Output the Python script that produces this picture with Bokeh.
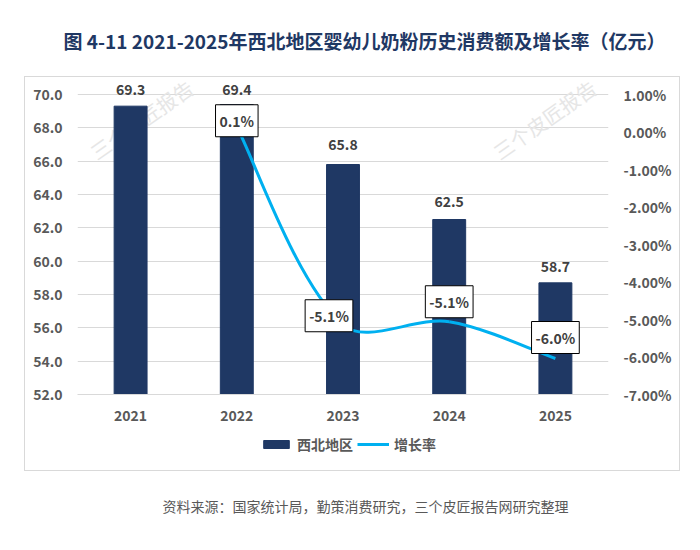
import numpy as np

from bokeh.core.properties import value
from bokeh.embed import file_html
from bokeh.layouts import column
from bokeh.models import (ColumnDataSource, FixedTicker, Label, LabelSet, Legend, LegendItem,
                          LinearAxis, PrintfTickFormatter, Range1d)
from bokeh.plotting import figure
from bokeh.resources import INLINE

# data
years = ["2021", "2022", "2023", "2024", "2025"]
sales = [69.3, 69.4, 65.8, 62.5, 58.7]          # 亿元
rate_years = ["2022", "2023", "2024", "2025"]
rates = [0.14, -5.14, -5.06, -6.04]             # %
sales_ticks = [52, 54, 56, 58, 60, 62, 64, 66, 68, 70]
rate_ticks = [-7, -6, -5, -4, -3, -2, -1, 0, 1]
series_names = ["西北地区", "增长率"]

title_text = "图 4-11 2021-2025年西北地区婴幼儿奶粉历史消费额及增长率（亿元）"
source_text = "资料来源：国家统计局，勤策消费研究，三个皮匠报告网研究整理"
watermark = "三个皮匠报告"

FONT = "Noto Sans CJK SC"
NAVY = "#1F3864"
CYAN = "#00B0F0"
GREY = "#595959"


def strip(w, h):
    f = figure(width=w, height=h, x_range=Range1d(0, w), y_range=Range1d(0, h),
               title=None, min_border=0, x_axis_location=None, y_axis_location=None,
               toolbar_location=None, tools="", output_backend="svg")
    f.outline_line_color = None
    f.grid.visible = False
    return f


# ---- heading
head = strip(700, 76)
head.add_layout(Label(x=63, y=36, text=title_text, text_align="left",
                      text_baseline="middle", text_font=FONT, text_font_size="19px",
                      text_font_style="bold", text_color=NAVY))

# ---- chart
CW, CH = 654, 354
top_pad = 0.9   # room above 70.0 for the value labels
p = figure(width=CW, height=CH, output_backend="svg", toolbar_location=None, tools="",
           x_range=Range1d(-0.5, len(years) - 0.5),
           y_range=Range1d(sales_ticks[0], sales_ticks[-1] + top_pad),
           min_border_left=52, min_border_right=71, min_border_top=2,
           min_border_bottom=37)
p.outline_line_color = None
p.xgrid.grid_line_color = None
p.ygrid.grid_line_color = "#D9D9D9"
p.ygrid.ticker = FixedTicker(ticks=sales_ticks)

rate_span = (rate_ticks[-1] - rate_ticks[0]) / (sales_ticks[-1] - sales_ticks[0])
p.extra_y_ranges = {"rate": Range1d(rate_ticks[0], rate_ticks[-1] + top_pad * rate_span)}

x_idx = list(range(len(years)))
rate_x = [years.index(y) for y in rate_years]

left = p.yaxis[0]
left.ticker = FixedTicker(ticks=sales_ticks)
left.formatter = PrintfTickFormatter(format="%.1f")

right = LinearAxis(y_range_name="rate", ticker=FixedTicker(ticks=rate_ticks),
                   formatter=PrintfTickFormatter(format="%.2f%%"))
p.add_layout(right, "right")

xax = p.xaxis[0]
xax.ticker = FixedTicker(ticks=x_idx)
xax.major_label_overrides = {i: y for i, y in zip(x_idx, years)}
xax.axis_line_color = "#D9D9D9"

for ax in (left, right, xax):
    ax.major_tick_line_color = None
    ax.minor_tick_line_color = None
    ax.major_label_text_font = FONT
    ax.major_label_text_font_size = "14px"
    ax.major_label_text_font_style = "bold"
    ax.major_label_text_color = GREY
    ax.major_label_standoff = 9
for ax in (left, right):
    ax.axis_line_color = None

# faint watermarks, kept inside the plot area
for wx, wy in [(64, 275), (467, 275)]:
    p.add_layout(Label(x=wx, y=wy, x_units="screen", y_units="screen",
                       text=watermark, angle=35, angle_units="deg", text_align="center",
                       text_baseline="middle", text_font=FONT, text_font_size="20px",
                       text_color="#E6E6E6", level="underlay"))

bar_src = ColumnDataSource(dict(x=x_idx, top=sales, label=["%.1f" % v for v in sales],
                                dy=[17, 15, 20, 18, 16]))
bars = p.vbar(x="x", top="top", bottom=sales_ticks[0], width=0.31, source=bar_src,
              fill_color=NAVY, line_color=NAVY)
p.add_layout(LabelSet(x="x", y="top", text="label", source=bar_src, y_offset="dy",
                      text_align="center", text_baseline="middle", text_font=value(FONT),
                      text_font_size="14px", text_font_style="bold",
                      text_color="#404040"))


# smoothed growth line: one cubic bezier per segment (excel style smoothing)
def bezier_parts(xs, ys, sx, sy):
    n = len(xs)
    seg = [np.hypot((xs[i + 1] - xs[i]) * sx, (ys[i + 1] - ys[i]) * sy) for i in range(n - 1)]

    def tangent(i, j):
        a, b = max(i - 1, 0), min(i + 1, n - 1)
        w = 1 / 6
        if 0 < i < n - 1:
            w *= 2 * seg[j] / (seg[i - 1] + seg[i])
        return (xs[b] - xs[a]) * w, (ys[b] - ys[a]) * w

    out = dict(x0=[], y0=[], x1=[], y1=[], cx0=[], cy0=[], cx1=[], cy1=[])
    for j in range(n - 1):
        t0 = tangent(j, j)
        t1 = tangent(j + 1, j)
        out["x0"].append(xs[j]); out["y0"].append(ys[j])
        out["x1"].append(xs[j + 1]); out["y1"].append(ys[j + 1])
        out["cx0"].append(xs[j] + t0[0]); out["cy0"].append(ys[j] + t0[1])
        out["cx1"].append(xs[j + 1] - t1[0]); out["cy1"].append(ys[j + 1] - t1[1])
    return out


curve_src = ColumnDataSource(bezier_parts(rate_x, rates, 531 / len(years), 300 / 8))
p.bezier(x0="x0", y0="y0", x1="x1", y1="y1", cx0="cx0", cy0="cy0",
         cx1="cx1", cy1="cy1", source=curve_src, y_range_name="rate",
         line_color=CYAN, line_width=3)

rate_src = ColumnDataSource(dict(x=rate_x, y=rates, label=["%.1f%%" % v for v in rates],
                                 dx=[0, -14, 0, 0], dy=[-6, -9, -20, -21]))
p.text(x="x", y="y", text="label", source=rate_src, y_range_name="rate",
       x_offset="dx", y_offset="dy", text_align="center", text_baseline="middle",
       text_font=value(FONT), text_font_size="14px", text_font_style="bold",
       text_color="#404040", background_fill_color="white", border_line_color="black",
       border_line_width=1, padding=(4, 6))

# ---- legend row inside the box; hidden key renderers carry the chart's styles
key = strip(CW, 39)
key_bar = key.vbar(x=[0], top=[0], width=1, fill_color=NAVY, line_color=NAVY,
                   visible=False)
key_line = key.line(x=[0], y=[0], line_color=CYAN, line_width=3, visible=False)
key.add_layout(Legend(items=[LegendItem(label=series_names[0], renderers=[key_bar]),
                             LegendItem(label=series_names[1], renderers=[key_line])],
                      orientation="horizontal", location=(183, 16), padding=0, margin=0,
                      spacing=4, glyph_width=32, glyph_height=10, label_standoff=5,
                      label_height=16, label_text_font=FONT, label_text_font_size="14px",
                      label_text_font_style="bold", label_text_color=GREY,
                      inactive_fill_alpha=0, border_line_color=None,
                      background_fill_alpha=0))

boxed = column(p, key, spacing=0, margin=(0, 0, 0, 24),
               styles={"border": "1px solid #D9D9D9"})

# ---- source line
foot = strip(700, 68)
foot.add_layout(Label(x=162, y=34, text=source_text, text_align="left",
                      text_baseline="middle", text_font=FONT, text_font_size="14px",
                      text_color=GREY))

page = column(head, boxed, foot, spacing=0)
open("out.html", "w").write(file_html(page, INLINE))
